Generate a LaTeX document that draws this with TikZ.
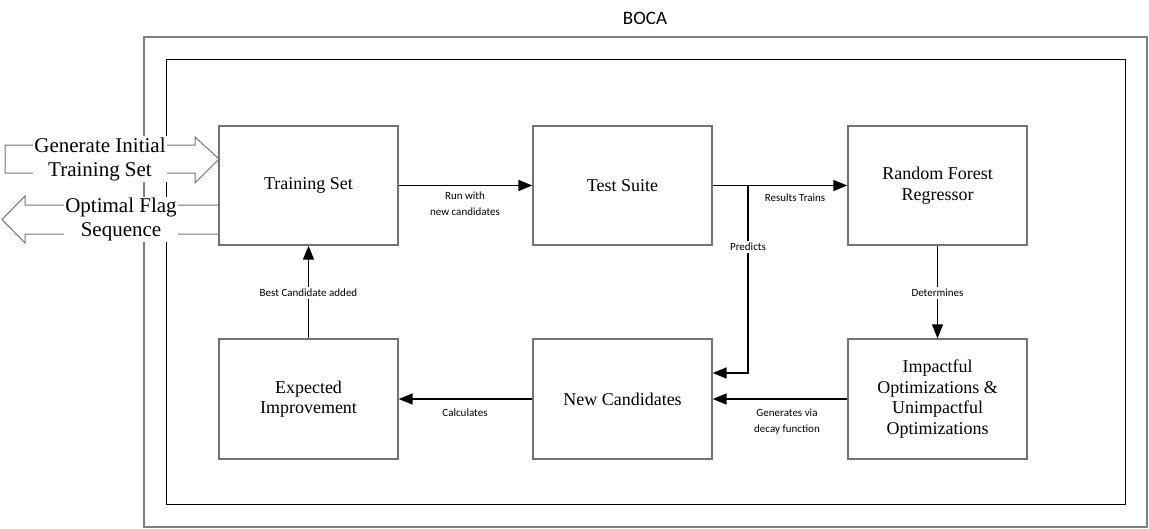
\documentclass[tikz,border=0pt]{standalone}
\usepackage{fontspec}
\setmainfont{Liberation Serif}
\newfontfamily\lab{Carlito}
\usetikzlibrary{arrows.meta}
\begin{document}
\begin{tikzpicture}[x=1pt,y=-1pt,
  box/.style={draw=black!55, line width=1.3pt, minimum width=179pt, minimum height=119pt, align=center, font=\fontsize{18}{20.5}\selectfont, inner sep=0pt},
  arr/.style={line width=1.4pt, -{Triangle[length=14pt,width=11pt]}},
  lbl/.style={font=\lab\fontsize{11}{16}\selectfont, align=center, inner sep=1pt},
  lblw/.style={lbl, fill=white, inner sep=2pt},
  blk/.style={draw=black!55, line width=1pt, fill=none},
  blktxt/.style={font=\fontsize{21}{24}\selectfont, align=center, fill=white, inner sep=1pt},
]
\useasboundingbox (0,0) rectangle (1149,528);
% frames
\draw[black!50, line width=2pt] (144,37) rectangle (1147,527);
\draw[black, line width=1pt] (166,59) rectangle (1125,504);
\node[font=\lab\fontsize{19}{22}\selectfont] (boca) at (645,18) {BOCA};

% boxes
\node[box] (ts)   at (308.5,185.5) {Training Set};
\node[box] (test) at (622.5,185.5) {Test Suite};
\node[box] (rf)   at (937.5,185.5) {Random Forest\\Regressor};
\node[box, minimum height=120pt] (ei) at (308.5,399) {Expected\\Improvement};
\node[box, minimum height=120pt] (nc) at (622.5,399) {New Candidates};
\node[box, minimum height=120pt] (io) at (937.5,399) {Impactful\\Optimizations \&\\Unimpactful\\Optimizations};

% connectors
\draw[arr] (ts.east) -- (test.west);
\node[lbl] (lrun) at (465,204) {Run with\\new candidates};
\draw[arr] (test.east) -- (rf.west);
\node[lbl] (lres) at (795,198) {Results Trains};
\coordinate (pj) at (748,185.5);
\draw[arr] (pj) |- ([yshift=26pt]nc.east);
\node[lblw] (lpred) at (748,247) {Predicts};
\draw[arr] (rf.south) -- (io.north);
\node[lblw] (ldet) at (937.5,293) {Determines};
\draw[arr] (io.west) -- (nc.east);
\node[lbl] (lgen) at (787,422) {Generates via\\decay function};
\draw[arr] (nc.west) -- (ei.east);
\node[lbl] (lcalc) at (465,413) {Calculates};
\draw[arr] (ei.north) -- (ts.south);
\node[lblw] (lbest) at (308.5,293) {Best Candidate added};

% block arrows
\draw[blk] (219,159) -- (195,137) -- (195,145) -- (5,145) -- (5,173) -- (195,173) -- (195,183) -- cycle;
\node[blktxt] (gen) at (100,159) {Generate Initial\\Training Set};
\draw[blk] (2,219.5) -- (25,196) -- (25,205) -- (219,205) -- (219,234) -- (25,234) -- (25,243) -- cycle;
\node[blktxt] (opt) at (121,219.5) {Optimal Flag\\Sequence};
\end{tikzpicture}
\end{document}
